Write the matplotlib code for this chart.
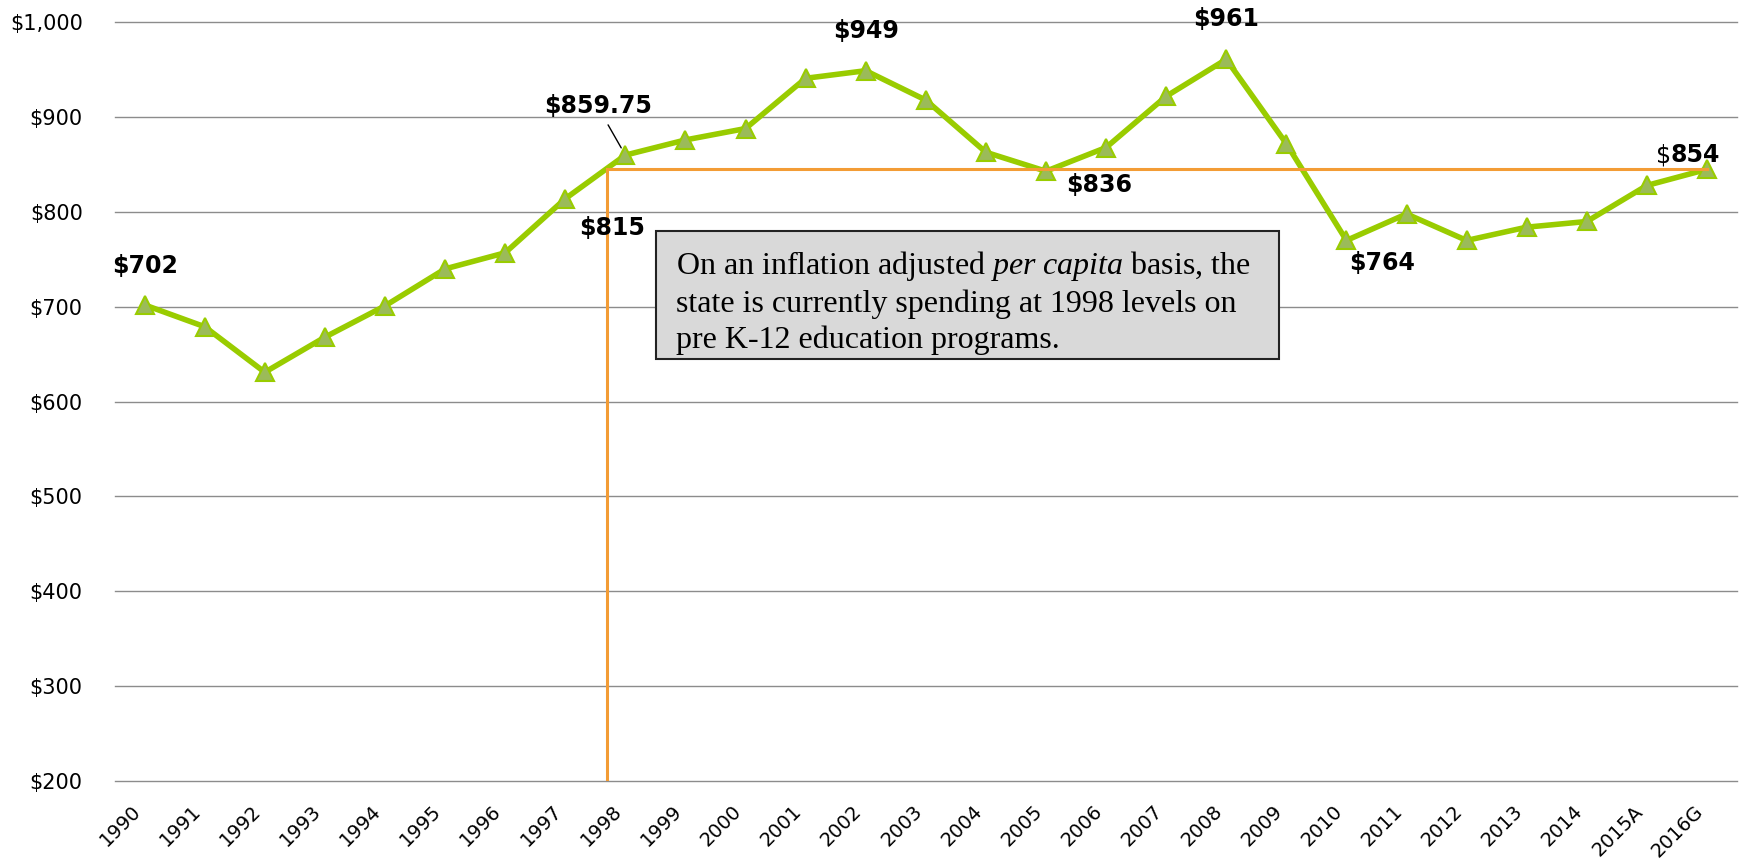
import matplotlib
matplotlib.use('Agg')
import matplotlib.pyplot as plt
from matplotlib.ticker import FuncFormatter
from matplotlib.patches import Rectangle

plt.rcParams['font.family'] = 'DejaVu Sans'
plt.rcParams['mathtext.fontset'] = 'custom'
plt.rcParams['mathtext.rm'] = 'Liberation Serif'
plt.rcParams['mathtext.it'] = 'Liberation Serif:italic'

years = ['1990', '1991', '1992', '1993', '1994', '1995', '1996', '1997', '1998',
         '1999', '2000', '2001', '2002', '2003', '2004', '2005', '2006', '2007',
         '2008', '2009', '2010', '2011', '2012', '2013', '2014', '2015A', '2016G']
spending = [702, 679, 631, 668, 701, 740, 757, 814, 860,
            876, 888, 941, 949, 918, 863, 843, 868, 922,
            961, 872, 770, 798, 770, 784, 790, 828, 845]

# 1998-level reference line
ref_level = 845
ref_start = 7.7

label_years = ['1990', '1998', '1997', '2002', '2008', '2005', '2010']
label_texts = ['$702', '$859.75', '$815', '$949', '$961', '$836', '$764']
label_offsets = [(0, 28), (-20, 35), (34, -21), (0, 28.5), (0, 29), (38, -10), (26, -16)]

note = ("On an inflation adjusted $\\mathit{per\\ capita}$ basis, the\n"
        "state is currently spending at 1998 levels on\n"
        "pre K-12 education programs.")

green = '#99cc00'
orange = '#f39c35'

fig = plt.figure(figsize=(17.44, 8.66), dpi=100)
ax = fig.add_axes([0.0657, 0.0982, 0.9303, 0.876])

x = list(range(len(years)))
ax.plot(x, spending, color=green, lw=4, marker='^', markersize=13,
        markerfacecolor='#9bbb59', markeredgecolor=green, markeredgewidth=1.5, zorder=3)

ax.plot([ref_start, len(years) - 1], [ref_level, ref_level], color=orange, lw=2.2, zorder=4)
ax.plot([ref_start, ref_start], [200, ref_level], color=orange, lw=2.2, zorder=4)

for yr, txt, (dx, dy) in zip(label_years, label_texts, label_offsets):
    i = years.index(yr)
    arrow = None
    if txt == '$859.75':
        arrow = dict(arrowstyle='-', color='black', lw=1, shrinkA=3, shrinkB=6)
    ax.annotate(txt, xy=(i, spending[i]), xytext=(dx, dy), textcoords='offset points',
                ha='center', va='center', fontsize=17, fontweight='bold',
                arrowprops=arrow, annotation_clip=False, zorder=6)

# last label: plain "$" then bold value
last = len(years) - 1
ax.annotate('$', xy=(last, spending[last]), xytext=(-26, 10), textcoords='offset points',
            ha='right', va='center', fontsize=17, zorder=6)
ax.annotate('854', xy=(last, spending[last]), xytext=(-26, 10), textcoords='offset points',
            ha='left', va='center', fontsize=17, fontweight='bold', zorder=6)

ax.add_patch(Rectangle((0.334, 0.5564), 0.3836, 0.1683, transform=ax.transAxes,
                       facecolor='#d9d9d9', edgecolor='#222222', lw=1.5, zorder=5))
ax.text(0.3461, 0.631, note, transform=ax.transAxes, ha='left', va='center',
        fontsize=23, family='Liberation Serif', linespacing=1.28, zorder=6)

ax.set_xlim(-0.5, len(years) - 0.5)
ax.set_ylim(200, 1000)
ax.set_yticks(range(200, 1001, 100))
ax.yaxis.set_major_formatter(FuncFormatter(lambda v, p: f"${v:,.0f}"))
ax.set_xticks(x)
ax.set_xticklabels(years, rotation=45, ha='right')
ax.tick_params(axis='y', length=0, pad=23, labelsize=15)
ax.tick_params(axis='x', length=0, pad=15, labelsize=14)
ax.grid(axis='y', color='#8c8c8c', lw=1)
for gl in ax.get_ygridlines():
    gl.set_clip_on(False)
ax.set_axisbelow(True)
for s in ax.spines.values():
    s.set_visible(False)

fig.savefig('out.png', dpi=100)
